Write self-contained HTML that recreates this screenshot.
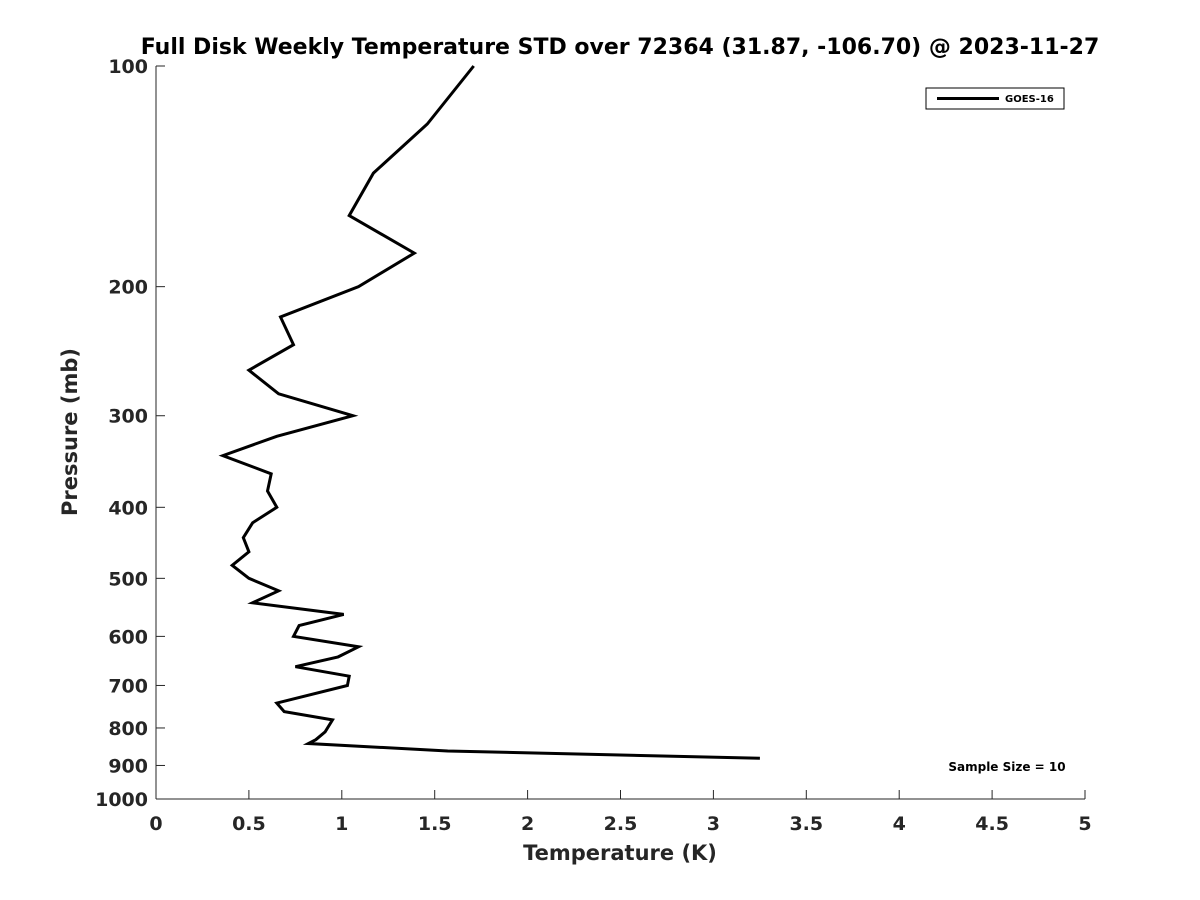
<!DOCTYPE html>
<html><head><meta charset="utf-8"><style>
body{margin:0;background:#fff;}
svg{display:block;font-family:"DejaVu Sans","Liberation Sans",sans-serif;}
</style></head><body>
<svg width="1200" height="900">
<rect width="1200" height="900" fill="#fff"/>
<text x="620" y="54" text-anchor="middle" font-size="22" font-weight="bold" fill="#000">Full Disk Weekly Temperature STD over 72364 (31.87, -106.70) @ 2023-11-27</text>
<g id="axes"></g>
<g id="series"></g>
<g>
<rect x="926" y="88" width="138" height="21" fill="#fff" stroke="#000" stroke-width="1"/>
<line x1="937" y1="98.5" x2="999" y2="98.5" stroke="#000" stroke-width="3"/>
<text x="1005" y="102" font-size="10" font-weight="bold">GOES-16</text>
</g>
<text x="1007" y="771" text-anchor="middle" font-size="12" font-weight="bold">Sample Size = 10</text>
<text x="620" y="860" text-anchor="middle" font-size="21" font-weight="bold" fill="#262626">Temperature (K)</text>
<text transform="translate(77,432) rotate(-90)" text-anchor="middle" font-size="21" font-weight="bold" fill="#262626">Pressure (mb)</text>
</svg>
<script>
const pressures=[100,120,140,160,180,200,220,240,260,280,300,320,340,360,380,400,420,440,460,480,500,520,540,560,580,600,620,640,660,680,700,740,760,780,810,830,840,860,880];
const stdValues=[1.71,1.46,1.17,1.04,1.39,1.09,0.67,0.74,0.50,0.66,1.06,0.65,0.36,0.62,0.60,0.65,0.52,0.47,0.50,0.41,0.50,0.66,0.52,1.01,0.77,0.74,1.09,0.98,0.75,1.04,1.03,0.65,0.69,0.95,0.91,0.86,0.82,1.57,3.25];
const xTicks=[0,0.5,1,1.5,2,2.5,3,3.5,4,4.5,5];
const xTickLabels=["0","0.5","1","1.5","2","2.5","3","3.5","4","4.5","5"];
const yTicks=[100,200,300,400,500,600,700,800,900,1000];
const yTickLabels=["100","200","300","400","500","600","700","800","900","1000"];
const NS="http://www.w3.org/2000/svg";
const X0=156,X1=1085,Y0=66,Y1=799;
function xs(v){return X0+(v-0)/(5-0)*(X1-X0);}
function ys(p){return Y0+(Math.log10(p)-2)*(Y1-Y0);}
function mk(t,a,parent){const e=document.createElementNS(NS,t);for(const k in a)e.setAttribute(k,a[k]);parent.appendChild(e);return e;}
const ax=document.getElementById('axes');
const la=mk('line',{x1:X0,y1:Y0,x2:X0,y2:Y1,stroke:'#262626','stroke-width':1},ax);


const lb=mk('line',{x1:X0,y1:Y1,x2:X1,y2:Y1,stroke:'#262626','stroke-width':1},ax);


xTicks.forEach((v,i)=>{
  const x=xs(v);
  mk('line',{x1:x,y1:Y1,x2:x,y2:Y1-9,stroke:'#262626'},ax);
  const t=mk('text',{x:x,y:Y1+31,'text-anchor':'middle','font-size':19,'font-weight':'bold',fill:'#262626'},ax);
  t.textContent=xTickLabels[i];
  
  
});
yTicks.forEach((p,i)=>{
  const y=ys(p);
  mk('line',{x1:X0,y1:y,x2:X0+9,y2:y,stroke:'#262626'},ax);
  const t=mk('text',{x:X0-8,y:y+7,'text-anchor':'end','font-size':19,'font-weight':'bold',fill:'#262626'},ax);
  t.textContent=yTickLabels[i];
  
  
});
const pts=pressures.map((p,i)=>xs(stdValues[i]).toFixed(1)+','+ys(p).toFixed(1)).join(' ');
const pl=mk('polyline',{points:pts,fill:'none',stroke:'#000','stroke-width':3,'stroke-linejoin':'miter'},document.getElementById('series'));


</script>
</body></html>
